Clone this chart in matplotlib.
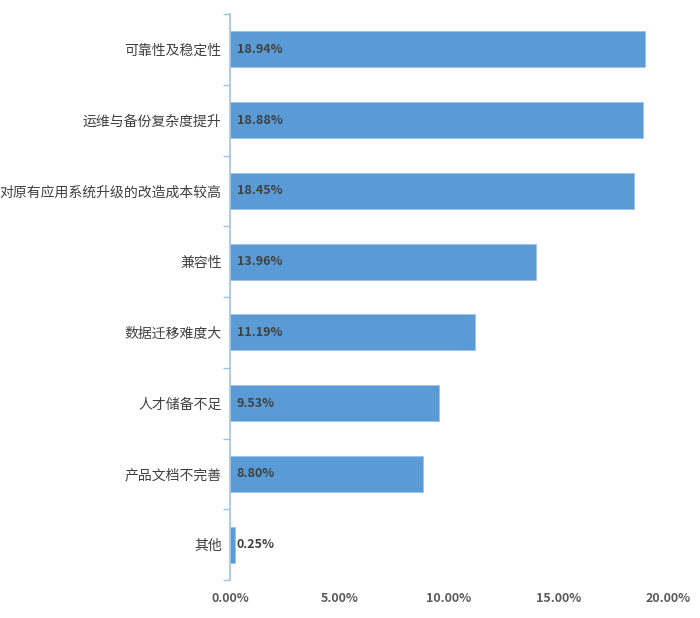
import numpy as np
import matplotlib.pyplot as plt

plt.rcParams['font.family'] = ['Noto Sans CJK SC', 'DejaVu Sans']

categories = ["可靠性及稳定性", "运维与备份复杂度提升", "对原有应用系统升级的改造成本较高",
              "兼容性", "数据迁移难度大", "人才储备不足", "产品文档不完善", "其他"]
values = [18.94, 18.88, 18.45, 13.96, 11.19, 9.53, 8.80, 0.25]
xticks = [0, 5, 10, 15, 20]

fig = plt.figure(figsize=(7, 6.18), dpi=100)
ax = fig.add_axes([0.3286, 0.0615, 0.6257, 0.9158])

y = np.arange(len(categories))[::-1]
ax.barh(y, values, height=0.51, color="#5B9BD5", edgecolor="#9DC3E6", linewidth=0.6)

for yi, v in zip(y, values):
    ax.text(0.3, yi, f"{v:.2f}%", va="center", ha="left", fontsize=9,
            fontweight="bold", color="#404040")

ax.set_xlim(0, 20)
ax.set_ylim(-0.5, len(categories) - 0.5)
ax.set_xticks(xticks)
ax.set_xticklabels([f"{t:.2f}%" for t in xticks], fontsize=9, fontweight="bold", color="#595959")
ax.tick_params(axis="x", length=0, pad=9)

ax.set_yticks(y)
ax.set_yticklabels(categories, fontsize=10, color="#404040")
ax.tick_params(axis="y", length=0, pad=6)
ax.set_yticks(np.arange(len(categories) + 1) - 0.5, minor=True)
ax.tick_params(axis="y", which="minor", length=5, color="#9DC3E6", width=1)

for s in ["top", "right", "bottom"]:
    ax.spines[s].set_visible(False)
ax.spines["left"].set_color("#9DC3E6")
ax.spines["left"].set_linewidth(1.2)

fig.savefig("out.png", dpi=100)
